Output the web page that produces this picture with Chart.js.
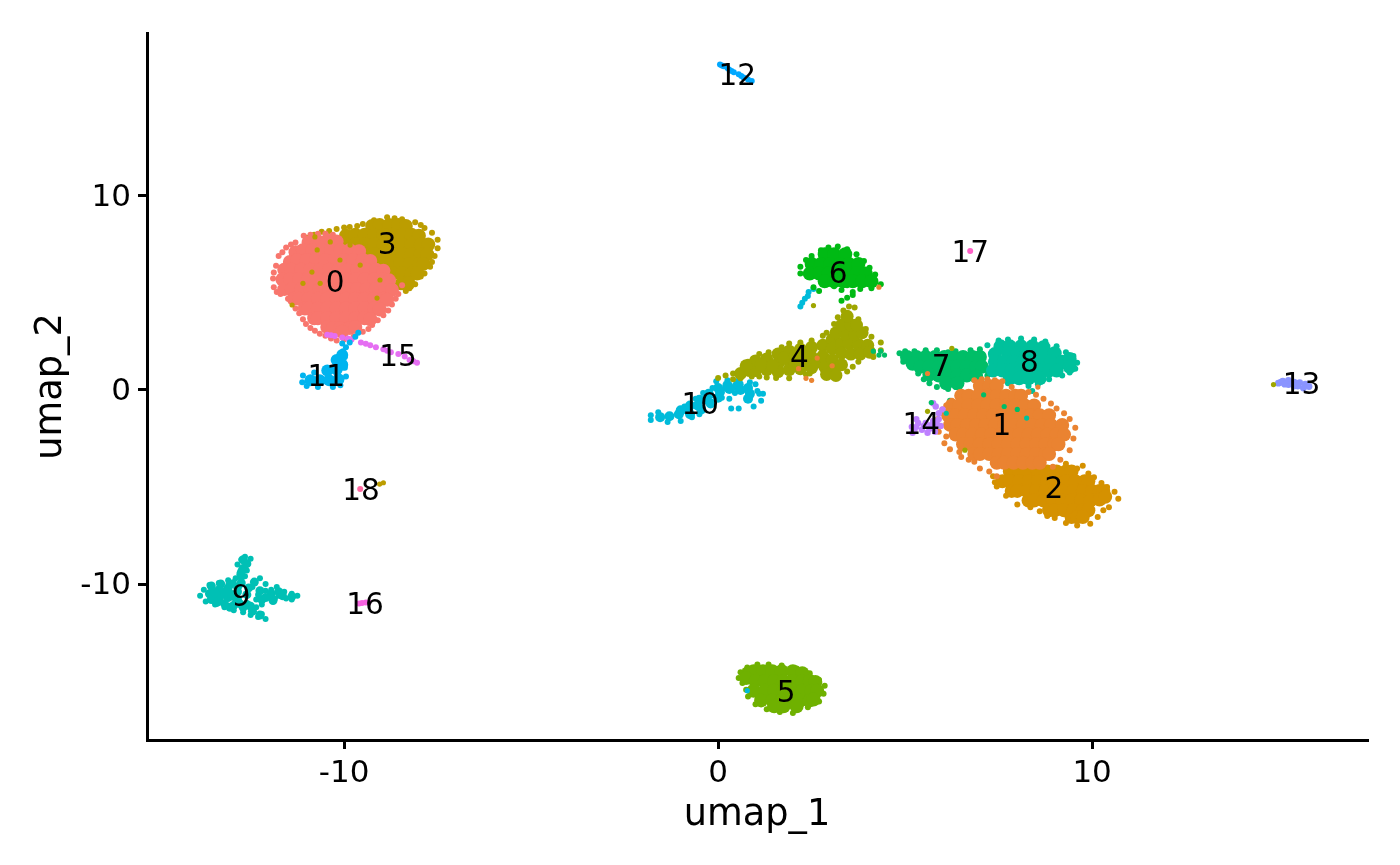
<!DOCTYPE html>
<html>
<head>
<meta charset="utf-8">
<title>umap</title>
<script src="https://cdn.jsdelivr.net/npm/chart.js@4"></script>
<style>
  body { margin: 0; background: #fff; }
  canvas { display: block; }
</style>
</head>
<body>
<canvas id="umapChart" width="1400" height="865"></canvas>
<script>
// Tick values and cluster labels
var xTicks = [-10, 0, 10];
var yTicks = [-10, 0, 10];
var labelNames = ["0","1","2","3","4","5","6","7","8","9","10","11","12","13","14","15","16","17","18"];
var labelX = [-10.24, 7.59, 8.98, -8.85, 2.17, 1.82, 3.21, 5.96, 8.32, -12.75, -0.48, -10.48, 0.51, 15.6, 5.43, -8.56, -9.44, 6.74, -9.55];
var labelY = [5.57, -1.8, -5.05, 7.53, 1.7, -15.57, 6.03, 1.24, 1.44, -10.62, -0.72, 0.72, 16.24, 0.31, -1.75, 1.75, -11.03, 7.11, -5.15];
var clusterColors = ["#F8766D","#EA8331","#D59100","#BC9D00","#9FA600","#6FB100","#00BA14","#00BE67","#00C19C","#00C0B5","#00BBDA","#00B4EF","#00A8FF","#8A94FF","#BE80FF","#E56EF2","#F763E0","#FF61C7","#FF6AA2"];

// Dense middle of each cluster
var c0Core = [[-10.95,7.6],[-10.7,7.65],[-10.45,7.7],[-10.2,7.65],
  [-11.3,7.1],[-11.1,7.2],[-10.85,7.2],[-10.6,7.2],[-10.35,7.2],[-10.1,7.2],[-9.85,7.2],[-9.6,7.15],
  [-11.45,6.6],[-11.25,6.7],[-11,6.7],[-10.75,6.7],[-10.5,6.7],[-10.25,6.7],[-10,6.7],[-9.75,6.7],[-9.5,6.7],[-9.3,6.65],
  [-11.6,6.2],[-11.4,6.2],[-11.15,6.2],[-10.9,6.2],[-10.65,6.2],[-10.4,6.2],[-10.15,6.2],[-9.9,6.2],[-9.65,6.2],[-9.4,6.2],[-9.15,6.2],[-8.95,6.15],
  [-11.65,5.7],[-11.45,5.7],[-11.2,5.7],[-10.95,5.7],[-10.7,5.7],[-10.45,5.7],[-10.2,5.7],[-9.95,5.7],[-9.7,5.7],[-9.45,5.7],[-9.2,5.7],[-8.95,5.7],[-8.8,5.65],
  [-11.6,5.2],[-11.4,5.2],[-11.15,5.2],[-10.9,5.2],[-10.65,5.2],[-10.4,5.2],[-10.15,5.2],[-9.9,5.2],[-9.65,5.2],[-9.4,5.2],[-9.15,5.2],[-8.9,5.2],[-8.72,5.15],
  [-11.35,4.7],[-11.2,4.7],[-10.95,4.7],[-10.7,4.7],[-10.45,4.7],[-10.2,4.7],[-9.95,4.7],[-9.7,4.7],[-9.45,4.7],[-9.2,4.7],[-8.95,4.7],[-8.85,4.65],
  [-11.05,4.2],[-10.95,4.2],[-10.7,4.2],[-10.45,4.2],[-10.2,4.2],[-9.95,4.2],[-9.7,4.2],[-9.45,4.2],[-9.2,4.2],[-9.05,4.15],
  [-10.8,3.7],[-10.7,3.7],[-10.45,3.7],[-10.2,3.7],[-9.95,3.7],[-9.7,3.7],[-9.45,3.7],[-9.3,3.65],
  [-10.45,3.25],[-10.3,3.2],[-10.1,3.2],[-9.85,3.2],[-9.7,3.25],[-10.05,3]];
var c0Pts = [[-11.08,7.95],[-10.9,8],[-10.7,8.05],[-10.5,8.05],[-10.3,8],[-11.3,7.6],[-11.55,7.35],[-11.42,7.5],[-11.65,7.1],[-11.75,6.9],[-11.82,6.4],[-11.88,6.05],[-11.9,5.75],[-11.88,5.3],[-11.8,5.05],[-11.7,4.95],[-11.5,4.7],[-11.35,4.55],[-11.3,4.2],[-11.2,3.95],[-11.1,3.65],[-11.02,3.4],[-10.9,3.2],[-10.78,3.05],[-10.65,2.9],[-10.5,2.8],[-10.35,2.65],[-10.2,2.55],[-10,2.6],[-9.75,2.75],[-9.5,3],[-9.35,3.15],[-9.25,3.35],[-9.1,3.6],[-8.95,3.85],[-8.82,4.1],[-8.72,4.4],[-8.62,4.7],[-8.55,4.95],[-8.45,5.4]];

var c1Core = [[7,0.2],[7.25,0.2],[7.45,0.2],
  [6.5,-0.3],[6.7,-0.3],[6.95,-0.3],[7.2,-0.3],[7.45,-0.3],[7.7,-0.3],[7.95,-0.3],[8.1,-0.3],
  [6.25,-0.8],[6.45,-0.8],[6.7,-0.8],[6.95,-0.8],[7.2,-0.8],[7.45,-0.8],[7.7,-0.8],[7.95,-0.8],[8.2,-0.8],[8.45,-0.8],
  [6.15,-1.3],[6.35,-1.3],[6.6,-1.3],[6.85,-1.3],[7.1,-1.3],[7.35,-1.3],[7.6,-1.3],[7.85,-1.3],[8.1,-1.3],[8.35,-1.3],[8.6,-1.3],[8.85,-1.3],
  [6.2,-1.8],[6.4,-1.8],[6.65,-1.8],[6.9,-1.8],[7.15,-1.8],[7.4,-1.8],[7.65,-1.8],[7.9,-1.8],[8.15,-1.8],[8.4,-1.8],[8.65,-1.8],[8.9,-1.8],[9.2,-1.8],
  [6.35,-2.3],[6.55,-2.3],[6.8,-2.3],[7.05,-2.3],[7.3,-2.3],[7.55,-2.3],[7.8,-2.3],[8.05,-2.3],[8.3,-2.3],[8.55,-2.3],[8.8,-2.3],[9.05,-2.3],[9.25,-2.3],
  [6.55,-2.8],[6.75,-2.8],[7,-2.8],[7.25,-2.8],[7.5,-2.8],[7.75,-2.8],[8,-2.8],[8.25,-2.8],[8.5,-2.8],[8.75,-2.8],[9,-2.8],[9.1,-2.8],
  [6.85,-3.3],[7,-3.3],[7.25,-3.3],[7.5,-3.3],[7.75,-3.3],[8,-3.3],[8.25,-3.3],[8.5,-3.3],[8.75,-3.3],[8.85,-3.3],
  [7.45,-3.75],[7.65,-3.75],[7.9,-3.75],[8.15,-3.75],[8.4,-3.75],[8.6,-3.75]];
var c1Pts = [[6.85,0.5],[7.05,0.55],[7.2,0.55],[7.4,0.5],[7.6,0.45],[7.85,0.15],[8.3,-0.1],[8.5,-0.25],[8.7,-0.45],[8.9,-0.7],[9.05,-0.95],[9.25,-1.2],[9.4,-1.5],[9.55,-1.95],[9.5,-2.5],[9.4,-3.1],[9.15,-3.6],[8.95,-3.95],[6.25,-0.55],[6.1,-0.8],[6,-1],[5.88,-1.5],[5.9,-2.15],[6.05,-2.75],[6.2,-3.05],[6.5,-3.45],[6.85,-3.7],[7,-4.05],[7.25,-4.2],[7.45,-4.45],[6.1,-2.4],[6.45,-3.2],[6.7,-3.6]];

var c2Core = [[7.8,-4.2],[8.05,-4.2],[8.3,-4.2],[8.55,-4.2],[8.8,-4.2],[9.05,-4.2],[9.3,-4.2],[9.45,-4.2],
  [7.6,-4.7],[7.8,-4.7],[8.05,-4.7],[8.3,-4.7],[8.55,-4.7],[8.8,-4.7],[9.05,-4.7],[9.3,-4.7],[9.55,-4.7],[9.8,-4.7],[9.9,-4.7],
  [7.85,-5.2],[8,-5.2],[8.25,-5.2],[8.5,-5.2],[8.75,-5.2],[9,-5.2],[9.25,-5.2],[9.5,-5.2],[9.75,-5.2],[10,-5.2],[10.2,-5.2],[10.3,-5.2],
  [8.3,-5.7],[8.45,-5.7],[8.7,-5.7],[8.95,-5.7],[9.2,-5.7],[9.45,-5.7],[9.7,-5.7],[9.95,-5.7],[10.2,-5.65],[10.35,-5.5],
  [8.85,-6.2],[9,-6.2],[9.25,-6.2],[9.5,-6.2],[9.75,-6.2],[9.9,-6.2],[9.45,-6.55],[9.6,-6.55],[9.75,-6.55]];
var c2Pts = [[7.35,-4.45],[7.4,-4.75],[7.45,-4.98],[7.7,-5.45],[8,-5.9],[8.35,-6.05],[8.6,-6.25],[8.8,-6.5],[9,-6.6],[9.3,-6.85],[9.6,-6.98],[9.95,-6.9],[10.15,-6.55],[10.3,-6.2],[10.45,-6.05],[10.7,-5.6],[10.6,-5.25],[10.4,-5],[10.25,-4.8],[10.05,-4.5],[9.9,-4.3],[9.6,-4.05],[9.3,-3.8],[8.7,-3.95],[8.05,-3.95],[7.7,-3.95],[9.75,-3.9]];

var c3Core = [[-9.25,8.45],[-9.05,8.5],[-8.8,8.5],[-8.55,8.5],[-8.35,8.45],
  [-9.95,7.95],[-9.7,8],[-9.45,8],[-9.2,8],[-8.95,8],[-8.7,8],[-8.45,8],[-8.2,8],[-8,7.95],
  [-10.7,7.5],[-10.45,7.5],[-10.2,7.5],[-9.95,7.5],[-9.7,7.5],[-9.45,7.5],[-9.2,7.5],[-8.95,7.5],[-8.7,7.5],[-8.45,7.5],[-8.2,7.5],[-7.95,7.5],[-7.75,7.5],
  [-9.7,7],[-9.45,7],[-9.2,7],[-8.95,7],[-8.7,7],[-8.45,7],[-8.2,7],[-7.95,7],[-7.78,7],
  [-9,6.5],[-8.75,6.5],[-8.5,6.5],[-8.25,6.5],[-8,6.5],[-7.88,6.5],
  [-8.7,6],[-8.45,6],[-8.2,6],[-8.05,6],[-8.45,5.5],[-8.28,5.5]];
var c3Pts = [[-11,7.85],[-10.8,8],[-10.6,8.15],[-10.4,8.2],[-10.2,8.3],[-10,8.38],[-9.85,8.4],[-9.65,8.45],[-9.5,8.55],[-9.2,8.75],[-8.85,8.9],[-8.65,8.85],[-8.45,8.8],[-8.1,8.65],[-7.95,8.5],[-7.85,8.35],[-7.65,8.1],[-7.5,7.75],[-7.5,7.3],[-7.58,6.9],[-7.65,6.6],[-7.7,6.35],[-7.85,6],[-7.95,5.85],[-8.1,5.45],[-8.25,5.25],[-8.35,5.1],[-8.5,5.3]];

var c4Core = [[0.6,0.85],[0.85,1],[1,1.5],[1,1],[1.3,1.6],[1.3,1.05],[1.6,1.85],[1.6,1.35],[1.6,0.95],[1.9,2],[1.9,1.5],[1.9,1.05],[2.2,2.1],[2.2,1.6],[2.2,1.1],[2.5,2.2],[2.5,1.7],[2.5,1.15],
  [0.75,1.25],[1.15,1.3],[1.45,1.25],[1.75,1.65],[2.05,1.75],[2.35,1.85],[2.05,1.3],[2.35,1.35],[2.65,1.45],
  [2.8,2.3],[2.8,1.75],[2.85,1.2],[3.05,2.6],[3.05,2.15],[3.05,1.55],[3.1,1.1],[2.9,0.8],[3.15,0.75],[3.3,2.4],[3.3,1.9],[3.3,1.3],[3.5,2.4],[3.55,1.85],[3.75,2.35],[3.8,1.85],[4,2.3],[4.05,1.95],
  [3.15,2.95],[3.4,2.9],[3.65,2.85],[3.85,2.95],[3.3,3.35],[3.55,3.35],[3.7,3.35],[3.45,3.8]];
var c4Pts = [[0,0.62],[0.2,0.75],[0.4,0.85],[0.4,0.55],[0.6,0.6],[0.9,0.7],[1.1,0.7],[1.3,0.65],[1.55,0.62],[1.9,0.6],[2.35,0.8],[2.45,0.85],[0.8,1.45],[1.1,1.85],[1.35,1.95],[1.7,2.2],[1.9,2.4],[2.2,2.45],[2.5,2.55],[2.8,2.8],[2.9,2.95],[3.1,3.4],[3.2,3.75],[3.35,4.1],[3.5,4.3],[3.65,4.25],[3.75,3.65],[3.95,3.15],[4.1,2.75],[4.35,2.45],[4.35,2.05],[3.45,0.95],[3.6,1.2],[3.75,1.45],[4.15,1.7]];

var c5Core = [[0.8,-14.6],[0.95,-14.5],[1.2,-14.5],[1.45,-14.5],[1.7,-14.5],[2,-14.5],[2.25,-14.6],
  [0.75,-14.85],[1,-15],[1.25,-15],[1.5,-15],[1.75,-15],[2,-15],[2.25,-15],[2.45,-15],[2.6,-15.05],
  [0.95,-15.5],[1.25,-15.5],[1.5,-15.5],[1.75,-15.5],[2,-15.5],[2.25,-15.5],[2.5,-15.5],[2.65,-15.5],
  [1.15,-16],[1.45,-16],[1.7,-16],[1.95,-16],[2.2,-16],[2.45,-16],[2.55,-15.95],[1.5,-16.3],[1.75,-16.3],[2.1,-16.3]];
var c5Pts = [[0.6,-14.55],[0.55,-14.85],[0.65,-15.1],[0.78,-14.3],[1.05,-14.15],[1.35,-14.15],[1.7,-14.2],[2.1,-14.35],[2.45,-14.6],[2.7,-14.95],[2.85,-15.25],[2.82,-15.65],[2.7,-16.05],[2.4,-16.35],[2,-16.65],[1.65,-16.6],[1.3,-16.45],[1,-16.2],[0.8,-15.8],[0.75,-15.45]];

var c6Core = [[2.85,7],[3.1,7],[3.4,7],[2.5,6.5],[2.75,6.5],[3,6.5],[3.25,6.5],[3.5,6.5],[3.75,6.5],[2.45,6],[2.7,6],[2.95,6],[3.2,6],[3.45,6],[3.7,6],[3.95,6],[2.85,5.6],[3.1,5.6],[3.35,5.6],[3.6,5.6],[3.85,5.6],[4.1,5.6]];
var c6Pts = [[2.2,6.35],[2.2,6],[2.35,6.7],[2.5,6.9],[2.75,7.2],[2.95,7.35],[3.2,7.4],[3.45,7.25],[3.7,7],[3.9,6.65],[4.05,6.3],[4.2,5.95],[4.35,5.45],[4.1,5.25],[3.8,5.2],[3.6,4.9],[3.45,4.75],[3.3,4.6],[3.6,5.05],[3.3,5.15],[2.7,5.1],[2.55,5.3],[3.45,5.4],[3.1,5.35]];

var c7Core = [[5.05,1.7],[5.3,1.7],[5.55,1.7],[5.8,1.7],[6.05,1.7],[6.3,1.7],[6.55,1.7],[6.8,1.7],[7,1.7],[5.2,1.35],[5.4,1.2],[5.65,1.2],[5.9,1.2],[6.15,1.2],[6.4,1.2],[6.65,1.2],[6.9,1.2],[7.05,1.2],[5.65,0.8],[5.9,0.75],[6.15,0.75],[6.4,0.75],[6.65,0.75],[6.9,0.7],[6.1,0.35],[6.4,0.35]];
var c7Pts = [[4.85,1.9],[5,2],[5.25,2],[5.55,2.05],[5.85,2.05],[6.15,1.95],[6.35,2],[6.75,2.05],[7,2.1],[7.05,1.85],[4.95,1.45],[5.15,1.2],[5.35,0.85],[5.5,0.55],[5.65,0.35],[5.85,0.15],[6.15,0.05],[6.35,0.15],[7.2,1],[7.2,0.75],[7.05,0.4],[6.2,-0.55]];

var c8Core = [[7.55,2.25],[7.8,2.25],[8.1,2.25],[8.4,2.25],[8.7,2.2],[7.4,1.85],[7.75,1.9],[8,1.9],[8.25,1.9],[8.5,1.9],[8.75,1.9],[9,1.9],[7.4,1.45],[7.65,1.45],[7.9,1.45],[8.15,1.45],[8.4,1.45],[8.65,1.45],[8.9,1.45],[9.2,1.45],[9.4,1.6],[9.4,1.2],[7.35,1],[7.6,1],[7.85,1],[8.1,1],[8.35,1],[8.6,1],[8.85,1],[9.05,1],[7.8,0.6],[8.05,0.6],[8.3,0.6],[8.6,0.6]];
var c8Pts = [[7.2,2.3],[7.5,2.55],[7.75,2.6],[8.1,2.65],[8.45,2.6],[8.75,2.5],[9.05,2.25],[9.3,1.95],[9.5,1.75],[9.6,1.4],[9.55,1.1],[9.4,0.9],[9.2,0.75],[8.85,0.55],[8.55,0.3],[8.3,0.2],[8.4,-0.05],[7.75,0.35]];

var c9Core = [[-13.6,-10.5],[-13.35,-10.3],[-13.35,-10.75],[-13.1,-10.2],[-13.1,-10.7],[-12.85,-10.15],[-12.85,-10.8],[-12.6,-10.55],[-12.6,-11.05],
  [-13.55,-10.1],[-13.3,-10],[-13.05,-10],[-13.55,-10.8],[-13.3,-10.6],[-13.05,-10.5],[-12.85,-10.4],[-13.2,-11],[-12.95,-11.1],[-12.7,-11.2],[-12.45,-11.4],[-12.25,-11.6],[-12.7,-8.75],[-12.7,-9.2],[-12.75,-9.6],[-12.55,-10.2],[-11.95,-10.5],[-11.65,-10.6],[-11.4,-10.65],[-12.2,-10.8],[-11.9,-10.85],[-12.25,-10.35],[-12.4,-9.9],
  [-13.45,-10.45],[-13.2,-10.4],[-12.95,-10.65],[-13.4,-10.95],[-13.05,-11.2],[-12.8,-11],[-12.5,-11.15],[-12.75,-9.95],[-12.6,-8.95],[-12.75,-9.4],[-12.1,-10.7],[-11.75,-10.4]];
var c9Pts = [[-13.85,-10.6],[-13.75,-10.3],[-13.6,-10.05],[-13.35,-9.95],[-13.1,-9.8],[-12.9,-9.7],[-12.65,-8.6],[-12.5,-8.7],[-12.75,-8.75],[-12.85,-9],[-12.6,-8.95],[-12.75,-9.25],[-12.6,-9.3],[-12.8,-9.5],[-12.65,-9.6],[-12.95,-9.9],[-13.7,-10.9],[-13.45,-11.05],[-13.2,-11.2],[-12.95,-11.35],[-12.7,-11.45],[-12.45,-11.45],[-12.2,-11.55],[-12.1,-11.8],[-12.3,-11.7],[-12.5,-11.6],[-12.2,-11.05],[-12.35,-10.8],[-12.45,-10.15],[-12.25,-9.7],[-12.1,-10],[-12.05,-10.7],[-11.95,-10.3],[-11.8,-10.15],[-11.75,-10.6],[-11.6,-10.4],[-11.55,-10.75],[-11.4,-10.5],[-11.4,-10.8],[-11.25,-10.6],[-11.85,-10.75],[-12.1,-10.35],[-12.3,-10.55],[-12.35,-11.2]];

var c10Core = [[-1.55,-1.4],[-1.3,-1.35],[-1.05,-1.25],[-0.8,-1.05],[-0.55,-0.8],[-0.3,-0.5],[0,0.1],[0.25,0.15],[0.5,0.2],[0.8,-0.45],
  [-1,-1.05],[-0.75,-0.8],[-0.5,-0.5],[-0.25,-0.2],[-0.75,-1.25],[-0.45,-1],[-0.2,-0.7],[0,-0.4],[0.05,-0.1],[0.25,0.25],[0.55,0.3],[0.3,0.05],[0.6,0],[0.85,-0.2],[0.8,0.1]];
var c10Pts = [[-1.8,-1.55],[-1.8,-1.3],[-1.6,-1.15],[-1.35,-1.65],[-1,-1.6],[-0.7,-1.4],[-0.5,-1.25],[-0.9,-0.85],[-0.6,-0.45],[-0.4,-0.15],[-0.2,-0.3],[-0.15,0.1],[-0.05,0.45],[0.25,0.5],[0.55,0.5],[0.85,0.4],[1,0.3],[0.75,0],[0.45,-0.15],[0.3,-0.45],[0.35,-0.95],[0.55,-0.95],[0.95,-0.85],[1.15,-0.55],[1.1,-0.2],[1.2,-0.2],[1.05,-0.05],[0.1,-0.4],
  [2.2,4.3],[2.25,4.5],[2.32,4.7],[2.4,4.85],[2.42,5.05],[2.55,5.2],[2.9,5.6]];

var c11Core = [[-10.9,0.5],[-10.65,0.5],[-10.4,0.5],[-10.15,0.55],[-10.45,1],[-10.2,1.05],[-10.05,1.3],[-10.2,1.55],[-10.05,1.8]];
var c11Pts = [[-11.1,0.75],[-11.12,0.4],[-11,0.2],[-10.7,0.15],[-10.3,0.15],[-10.1,0.25],[-10.8,0.9],[-9.95,0.7],[-9.98,1.15],[-9.98,1.7],[-10.03,2],[-9.95,2.2],[-10.05,2.4],[-9.85,2.45],[-9.7,2.75],[-9.62,2.95]];

var c12Pts = [[0.05,16.78],[0.1,16.72],[0.15,16.68],[0.25,16.6],[0.3,16.5],[0.36,16.44],[0.42,16.38],[0.55,16.28],[0.62,16.18],[0.68,16.1],[0.8,16],[0.9,15.92]];
var c13Pts = [[14.98,0.35],[15.05,0.4],[15.1,0.45],[15.25,0.5],[15.4,0.4],[15.55,0.38],[15.7,0.3],[15.8,0.18],[15.5,0.2],[15.25,0.28],[15.65,0.1],[15.4,0.2],[15.15,0.3]];
var c14Pts = [[5.18,-1.9],[5.25,-2.1],[5.35,-1.7],[5.45,-2.05],[5.55,-1.7],[5.65,-2],[5.75,-1.6],[5.8,-2.15],[5.95,-1.85],[5.5,-1.85],[5.9,-1.5],[5.9,-1.2],[6,-1],[5.82,-0.85],[5.75,-0.68],[5.3,-1.5],[5.3,-1.9],[5.7,-1.8],[5.85,-1.75],[5.2,-2.2],[5.6,-2.2]];
var c15Pts = [[-10.45,2.85],[-10.35,2.82],[-10.25,2.78],[-10.05,2.7],[-9.9,2.65],[-9.8,2.6],[-9.55,2.45],[-9.42,2.38],[-9.3,2.3],[-9.15,2.2],[-8.95,2.1],[-8.85,2.02],[-8.75,1.95],[-8.55,1.85],[-8.38,1.72],[-8.25,1.55],[-8.15,1.48],[-8.05,1.4]];
var c16Pts = [[-9.6,-11],[-9.52,-10.98],[-9.42,-10.95],[-9.35,-10.95]];
var c17Pts = [[6.74,7.16]];
var c18Pts = [[-9.57,-5.1]];

// Odd cells that sit on top of another cluster
var strayGold = [[-10.72,7.22],[-10.86,6.08],[-10.64,5.5],[-11.1,5.5],[-11.39,4.38],[-9.12,4.74],[-9.04,5.67],[-10.11,6.7],[-9.57,6.44],[-9.84,7.47],[-10.37,7.63],[-10.78,7.89],[-9.05,-4.85],[-8.95,-4.78]];
var strayOrange = [[2.35,0.6],[2.5,0.5],[2.15,1.1],[3.05,1.25],[2.65,1.65],[5.6,0.85],[8.55,0.15],[4.3,5.3]];
var strayOlive = [[5.6,-1.1],[6.6,-3.1],[2.55,4.35],[14.85,0.28],[6.25,2.15]];
var strayGreen = [[7.1,-0.25],[7.65,-0.85],[8,-1],[5.7,-0.65],[4.35,2],[4.15,2],[4.3,1.8],[4.45,1.8]];
var strayTeal = [[6.1,-1.2],[8.25,-1.45]];
var strayCyan = [[0.78,-15.5]];

// [points, cluster, radius], first ones are painted first
var layers = [
  [c3Pts, 3, 3], [c3Core, 3, 7], [c0Pts, 0, 3], [c0Core, 0, 7],
  [c7Pts, 7, 3], [c7Core, 7, 7], [c8Pts, 8, 3], [c8Core, 8, 7],
  [c2Pts, 2, 3], [c2Core, 2, 7], [c1Pts, 1, 3], [c1Core, 1, 7],
  [c14Pts, 14, 3.2], [c10Pts, 10, 3], [c10Core, 10, 5], [c4Pts, 4, 3], [c4Core, 4, 6.5],
  [c5Pts, 5, 3], [c5Core, 5, 7], [c6Pts, 6, 3], [c6Core, 6, 7],
  [c9Pts, 9, 3], [c9Core, 9, 4.5], [c15Pts, 15, 3], [c11Pts, 11, 3], [c11Core, 11, 6],
  [c12Pts, 12, 3], [c13Pts, 13, 3.4], [c16Pts, 16, 3], [c17Pts, 17, 3], [c18Pts, 18, 3],
  [strayGold, 3, 2.6], [strayOrange, 1, 2.6], [strayOlive, 4, 2.6], [strayGreen, 7, 2.6], [strayTeal, 8, 2.6], [strayCyan, 10, 2.6]
];

var datasets = layers.map(function(layer, i) {
  return {
    data: layer[0],
    pointRadius: layer[2],
    pointBackgroundColor: clusterColors[layer[1]],
    pointBorderWidth: 0,
    order: layers.length - i
  };
});

// Cluster numbers written at their centres
var clusterLabels = {
  id: "clusterLabels",
  afterDatasetsDraw: function(chart) {
    var ctx = chart.ctx;
    ctx.save();
    ctx.font = "29.5px 'DejaVu Sans'";
    ctx.fillStyle = "#000";
    ctx.textAlign = "center";
    ctx.textBaseline = "middle";
    labelNames.forEach(function(name, i) {
      ctx.fillText(name, chart.scales.x.getPixelForValue(labelX[i]), chart.scales.y.getPixelForValue(labelY[i]) + 2);
    });
    ctx.restore();
  }
};

new Chart(document.getElementById("umapChart").getContext("2d"), {
  type: "scatter",
  data: { datasets: datasets },
  plugins: [clusterLabels],
  options: {
    responsive: false,
    animation: false,
    events: [],
    layout: { padding: { top: 33, right: 33, bottom: 0, left: 0 } },
    plugins: { legend: { display: false }, tooltip: { enabled: false } },
    scales: {
      x: {
        type: "linear",
        min: -15.27,
        max: 17.35,
        afterBuildTicks: function(scale) {
          scale.ticks = xTicks.map(function(v) { return { value: v }; });
        },
        afterFit: function(scale) { scale.height = 125; },
        grid: { drawOnChartArea: false, drawTicks: true, tickLength: 9, tickColor: "#000", lineWidth: 3 },
        border: { display: true, color: "#000", width: 3 },
        ticks: { color: "#000", font: { family: "DejaVu Sans", size: 31 }, padding: 6, maxRotation: 0 },
        title: { display: true, text: "umap_1", color: "#000", font: { family: "DejaVu Sans", size: 36.7 }, padding: { top: 10, bottom: 28 } }
      },
      y: {
        type: "linear",
        min: -18.04,
        max: 18.4,
        afterBuildTicks: function(scale) {
          scale.ticks = yTicks.map(function(v) { return { value: v }; });
        },
        afterFit: function(scale) { scale.width = 147; },
        grid: { drawOnChartArea: false, drawTicks: true, tickLength: 9, tickColor: "#000", lineWidth: 3 },
        border: { display: true, color: "#000", width: 3 },
        ticks: { color: "#000", font: { family: "DejaVu Sans", size: 31 }, padding: 7, labelOffset: 2 },
        title: { display: true, text: "umap_2", color: "#000", font: { family: "DejaVu Sans", size: 36.7 }, padding: { top: 29, bottom: 10 } }
      }
    }
  }
});
</script>
</body>
</html>
